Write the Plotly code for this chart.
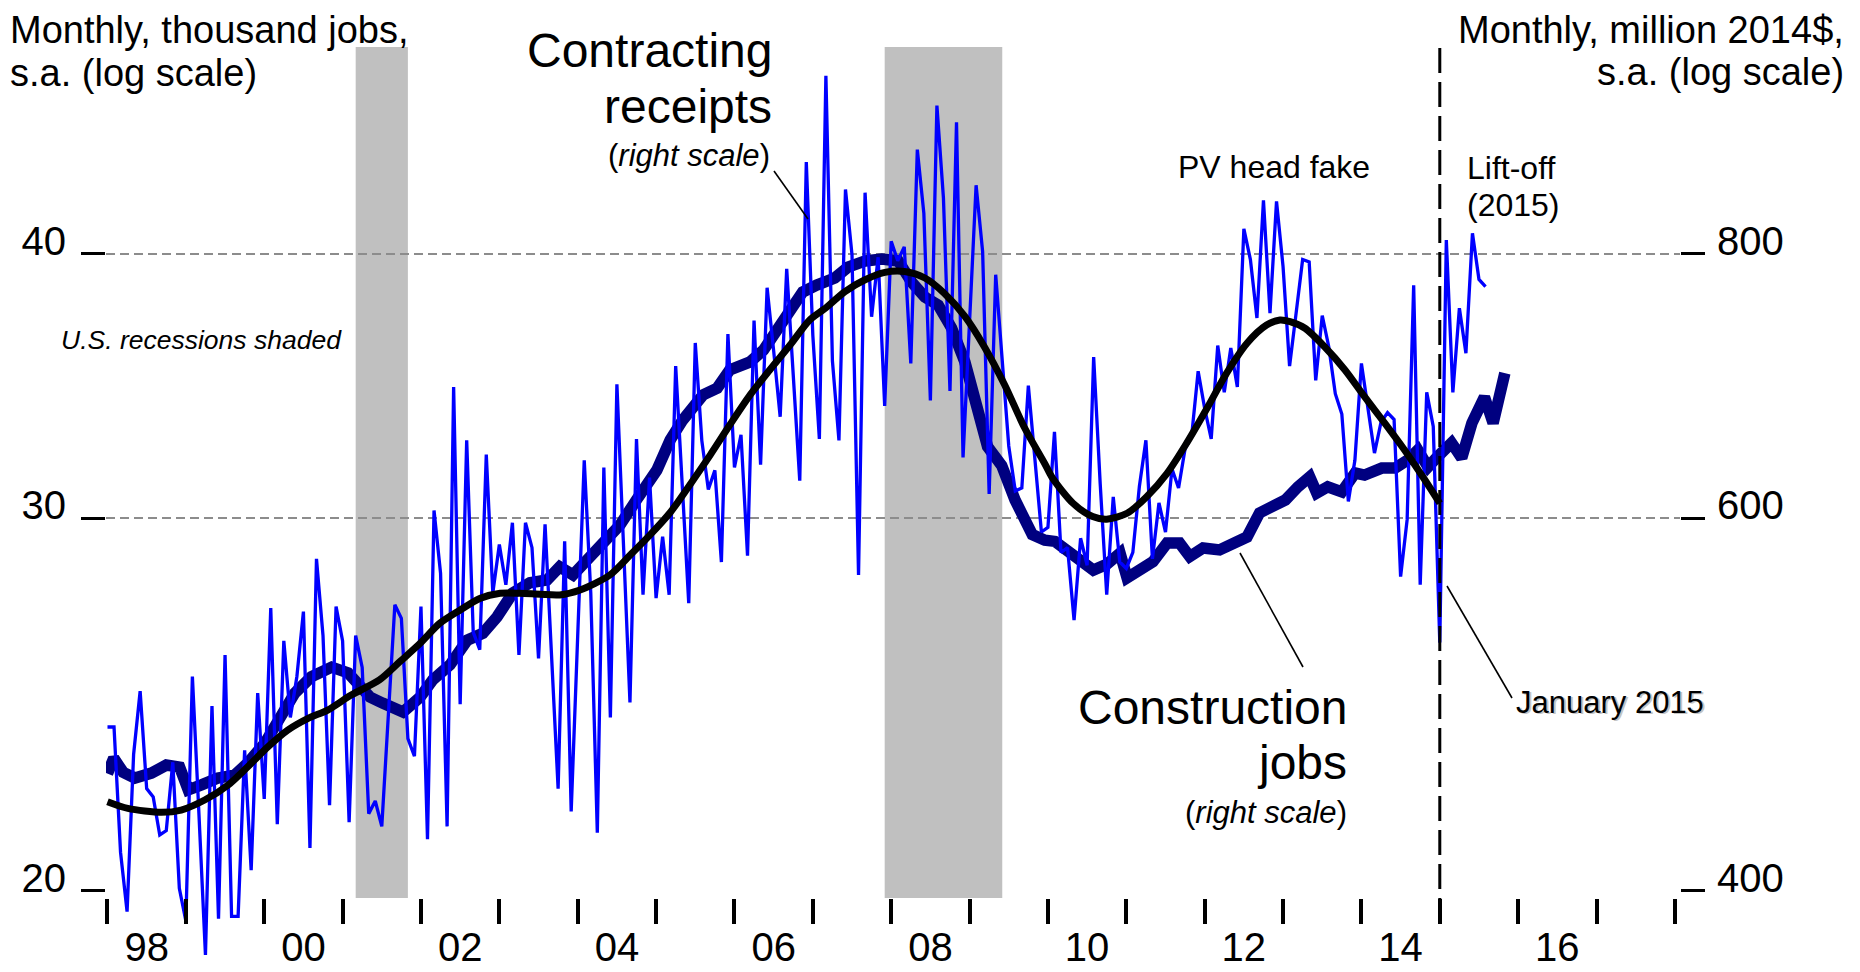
import plotly.graph_objects as go

# ---------------- data ----------------
# Contracting receipts, monthly, million 2014$ (right scale), Jan 1998 .. Aug 2015
receipts_start = 1998.0
receipts = [
    478, 478, 417, 391, 464, 497, 447, 443, 425, 427, 460, 401,
    387, 505, 435, 373, 489, 388, 517, 389, 389, 466, 409, 496,
    442, 544, 430, 525, 483, 505, 542, 419, 574, 528, 439, 545,
    525, 431, 528, 510, 435, 441, 429, 484, 546, 538, 472, 463,
    545, 423, 605, 565, 429, 692, 490, 653, 530, 520, 643, 553,
    583, 558, 597, 517, 597, 581, 515, 596, 518, 447, 585, 436,
    528, 639, 553, 426, 634, 483, 694, 589, 491, 654, 552, 627,
    550, 588, 552, 708, 622, 547, 726, 653, 619, 632, 572, 733,
    634, 657, 576, 744, 636, 771, 720, 670, 787, 705, 625, 884,
    732, 654, 971, 712, 653, 858, 799, 564, 855, 747, 797, 678,
    811, 794, 806, 710, 896, 836, 682, 940, 850, 689, 923, 641,
    738, 862, 802, 616, 782, 708, 649, 618, 620, 693, 638, 591,
    594, 659, 578, 581, 537, 587, 570, 715, 623, 552, 614, 572,
    568, 578, 621, 653, 574, 610, 591, 633, 620, 647, 656, 704,
    676, 654, 724, 688, 722, 692, 822, 795, 746, 848, 750, 847,
    789, 708, 750, 795, 793, 697, 748, 723, 687, 672, 611, 639,
    710, 674, 644, 666, 673, 668, 563, 599, 773, 558, 688, 663,
    524, 812, 688, 754, 718, 818, 778, 772,
]

# Construction jobs, thousand (left scale)
jobs_years = [
    1998.00, 1998.08, 1998.20, 1998.35, 1998.56, 1998.75, 1998.92, 1999.03,
    1999.20, 1999.41, 1999.62, 1999.79, 2000.01, 2000.22, 2000.39, 2000.60,
    2000.86, 2001.07, 2001.13, 2001.35, 2001.51, 2001.77, 2001.99, 2002.15,
    2002.37, 2002.59, 2002.79, 2002.97, 2003.17, 2003.39, 2003.61, 2003.77,
    2003.94, 2004.12, 2004.32, 2004.54, 2004.75, 2005.01, 2005.18, 2005.34,
    2005.60, 2005.78, 2005.94, 2006.20, 2006.37, 2006.54, 2006.71, 2006.87,
    2007.05, 2007.28, 2007.45, 2007.67, 2007.88, 2008.09, 2008.26, 2008.43,
    2008.60, 2008.77, 2008.94, 2009.11, 2009.23, 2009.41, 2009.58, 2009.80,
    2009.96, 2010.09, 2010.25, 2010.42, 2010.58, 2010.75, 2010.92, 2011.01,
    2011.18, 2011.34, 2011.52, 2011.68, 2011.81, 2011.98, 2012.19, 2012.36,
    2012.54, 2012.70, 2012.87, 2013.03, 2013.19, 2013.34, 2013.43, 2013.57,
    2013.75, 2013.92, 2014.04, 2014.26, 2014.43, 2014.59, 2014.72, 2014.85,
    2014.97, 2015.15, 2015.28, 2015.41, 2015.57, 2015.68, 2015.83,
]
jobs_values = [
    22.72, 23.10, 22.75, 22.61, 22.73, 22.93, 22.88, 22.32,
    22.44, 22.61, 22.68, 22.98, 23.49, 24.27, 24.80, 25.24,
    25.51, 25.35, 25.21, 24.69, 24.53, 24.29, 24.69, 25.16,
    25.57, 26.27, 26.47, 26.94, 27.65, 27.96, 28.05, 28.45,
    28.20, 28.66, 29.29, 29.78, 30.60, 31.61, 32.66, 33.38,
    34.31, 34.56, 35.25, 35.56, 36.02, 36.82, 37.54, 38.37,
    38.66, 38.96, 39.43, 39.69, 39.77, 39.69, 38.79, 38.16,
    37.83, 36.90, 35.56, 33.53, 32.43, 31.77, 30.60, 29.47,
    29.29, 29.25, 28.98, 28.61, 28.35, 28.53, 28.88, 28.11,
    28.42, 28.61, 29.20, 29.20, 28.77, 29.04, 28.98, 29.20,
    29.39, 30.17, 30.37, 30.60, 31.04, 31.38, 30.83, 31.04,
    30.87, 31.51, 31.44, 31.68, 31.68, 31.96, 32.31, 31.72,
    32.07, 32.56, 32.03, 33.27, 34.23, 33.27, 35.13,
]

# Smooth trend of receipts, million 2014$ (right scale)
trend_years = [
    1998.00, 1998.26, 1998.69, 1998.94, 1999.24, 1999.54, 1999.79, 2000.05,
    2000.30, 2000.56, 2000.81, 2001.11, 2001.47, 2001.73, 2001.99, 2002.24,
    2002.50, 2002.75, 2003.01, 2003.26, 2003.52, 2003.77, 2004.03, 2004.41,
    2004.67, 2004.92, 2005.18, 2005.43, 2005.69, 2005.94, 2006.20, 2006.45,
    2006.71, 2006.96, 2007.15, 2007.41, 2007.66, 2007.92, 2008.17, 2008.43,
    2008.68, 2008.94, 2009.19, 2009.45, 2009.70, 2009.96, 2010.06, 2010.32,
    2010.57, 2010.75, 2011.01, 2011.26, 2011.52, 2011.77, 2012.03, 2012.28,
    2012.54, 2012.79, 2012.96, 2013.09, 2013.28, 2013.53, 2013.79, 2014.04,
    2014.30, 2014.55, 2014.81, 2015.00,
]
trend_values = [
    440.7, 437.5, 435.6, 436.7, 441.5, 448.8, 457.8, 467.9,
    476.4, 482.5, 486.9, 494.9, 503.1, 513.2, 523.6, 535.1,
    542.9, 549.8, 552.9, 552.9, 552.3, 551.9, 554.9, 564.0,
    576.4, 589.0, 603.7, 622.1, 642.6, 664.0, 686.1, 705.0,
    724.4, 744.4, 753.5, 767.8, 777.5, 784.0, 784.7, 779.2,
    766.2, 747.3, 722.9, 693.4, 662.2, 636.6, 626.6, 609.8,
    601.0, 599.3, 603.2, 614.2, 630.0, 651.0, 676.2, 702.5,
    725.8, 740.3, 744.4, 743.0, 737.7, 723.0, 705.0, 684.8,
    665.2, 646.2, 625.4, 609.8,
]

recessions = [(2001.167, 2001.833), (2007.917, 2009.417)]
liftoff_year = 2015.0

year_ticks = list(range(1998, 2019))
label_positions = [1998.5, 2000.5, 2002.5, 2004.5, 2006.5, 2008.5, 2010.5, 2012.5, 2014.5, 2016.5]
label_text = ["98", "00", "02", "04", "06", "08", "10", "12", "14", "16"]
left_ticks = [20, 30, 40]
right_ticks = [400, 600, 800]
grid_values = [30, 40]

# ---------------- layout geometry (pixels in the final picture) ----------------
FIG_W, FIG_H = 1860, 964   # page shows the figure offset by the 8px body margin
OFF = 8
L, R, T, B = 106, 1680, 40, 961
X_RANGE = [1997.981, 2018.065]
Y_RANGE = [1.26780, 1.70311]          # log10, left axis (thousand jobs)
Y2_RANGE = [Y_RANGE[0] + 1.30103, Y_RANGE[1] + 1.30103]  # right axis = left x 20

FONT = "Liberation Sans, Arial, Helvetica, sans-serif"


def px(x):
    return (x - L) / (R - L)


def py(y):
    return (B - y) / (B - T)


receipts_x = [receipts_start + i / 12 for i in range(len(receipts))]

fig = go.Figure()

fig.add_trace(go.Scatter(
    x=jobs_years, y=jobs_values, mode="lines", yaxis="y",
    line=dict(color="#000080", width=11.5), hoverinfo="skip", name="Construction jobs"))
fig.add_trace(go.Scatter(
    x=receipts_x, y=receipts, mode="lines", yaxis="y2",
    line=dict(color="#0000FF", width=3.3), hoverinfo="skip", name="Contracting receipts"))
fig.add_trace(go.Scatter(
    x=trend_years, y=trend_values, mode="lines", yaxis="y2",
    line=dict(color="#000000", width=7, shape="spline", smoothing=0.8),
    hoverinfo="skip", name="Trend"))
# empty trace that only carries the dashed grid axis
fig.add_trace(go.Scatter(x=[None], y=[None], yaxis="y3", mode="lines",
                         hoverinfo="skip", showlegend=False))

shapes = []
for a, b in recessions:
    shapes.append(dict(type="rect", xref="x", yref="paper", x0=a, x1=b,
                       y0=py(898), y1=py(47), fillcolor="#C0C0C0",
                       line=dict(width=0), layer="below"))
shapes.append(dict(type="line", xref="x", yref="paper", x0=liftoff_year, x1=liftoff_year,
                   y0=py(923), y1=py(44), line=dict(color="black", width=3, dash="25px,9px"),
                   layer="above"))
for (x0, y0, x1, y1) in [(774, 171, 808, 219), (1240, 553, 1303, 667), (1447, 586, 1512, 698)]:
    shapes.append(dict(type="line", xref="paper", yref="paper",
                       x0=px(x0), y0=py(y0), x1=px(x1), y1=py(y1),
                       line=dict(color="black", width=1.6)))

annotations = []


def note(text, x, y, size, anchor="left", color="black"):
    annotations.append(dict(text=text, xref="paper", yref="paper", x=px(x), y=py(y),
                            xanchor=anchor, yanchor="middle", showarrow=False,
                            borderpad=0,
                            font=dict(family=FONT, size=size, color=color)))


note("Monthly, thousand jobs,", 9, 30.5, 38)
note("s.a. (log scale)", 9, 73, 38)
note("Monthly, million 2014$,", 1845, 30.5, 38, "right")
note("s.a. (log scale)", 1845, 72, 38, "right")
note("Contracting", 773, 50, 48, "right")
note("receipts", 773, 106, 48, "right")
note("(<i>right scale</i>)", 771, 155, 31, "right")
note("Construction", 1348, 707, 48, "right")
note("jobs", 1348, 762, 48, "right")
note("(<i>right scale</i>)", 1348, 812, 31, "right")
note("PV head fake", 1177, 167, 32)
note("Lift-off", 1466, 168, 32)
note("(2015)", 1466, 205, 32)
note("January 2015", 1516.5, 703.5, 31, color="#C4C4C4")
note("January 2015", 1515, 702, 31)
note("<i>U.S. recessions shaded</i>", 60, 340, 26.5)

fig.update_layout(
    width=FIG_W, height=FIG_H,
    margin=dict(l=L - OFF, r=FIG_W - (R - OFF), t=T - OFF, b=FIG_H - (B - OFF), pad=0,
                autoexpand=False),
    paper_bgcolor="white", plot_bgcolor="white",
    showlegend=False,
    font=dict(family=FONT, color="black"),
    shapes=shapes, annotations=annotations,
    xaxis=dict(
        range=X_RANGE, anchor="free", position=py(898), automargin=False,
        tickmode="array", tickvals=label_positions, ticktext=label_text,
        ticks="", showgrid=False, zeroline=False, showline=False,
        tickfont=dict(family=FONT, size=40, color="black"),
        ticklabelstandoff=22,
        minor=dict(tickmode="array", tickvals=year_ticks, ticks="outside",
                   ticklen=25, tickwidth=3.5, tickcolor="black", showgrid=False),
    ),
    yaxis=dict(
        type="log", range=Y_RANGE, anchor="x", automargin=False,
        tickmode="array", tickvals=left_ticks, ticktext=[str(v) for v in left_ticks],
        ticks="outside", ticklen=24, tickwidth=3, tickcolor="black",
        showgrid=False, zeroline=False, showline=False,
        tickfont=dict(family=FONT, size=40, color="black"),
        ticklabelstandoff=7, ticklabelshift=-13,
    ),
    yaxis2=dict(
        type="log", range=Y2_RANGE, overlaying="y", side="right", anchor="x",
        automargin=False,
        tickmode="array", tickvals=right_ticks, ticktext=[str(v) for v in right_ticks],
        ticks="outside", ticklen=24, tickwidth=3, tickcolor="black",
        showgrid=False, zeroline=False, showline=False,
        tickfont=dict(family=FONT, size=40, color="black"),
        ticklabelstandoff=4, ticklabelshift=-13,
    ),
    yaxis3=dict(
        type="log", range=Y_RANGE, overlaying="y", side="left", anchor="x",
        automargin=False,
        tickmode="array", tickvals=grid_values, showticklabels=False, ticks="",
        showgrid=True, gridcolor="#8C8C8C", gridwidth=2, griddash="9px,5px",
        zeroline=False, showline=False,
    ),
)

fig.write_html("out.html")
